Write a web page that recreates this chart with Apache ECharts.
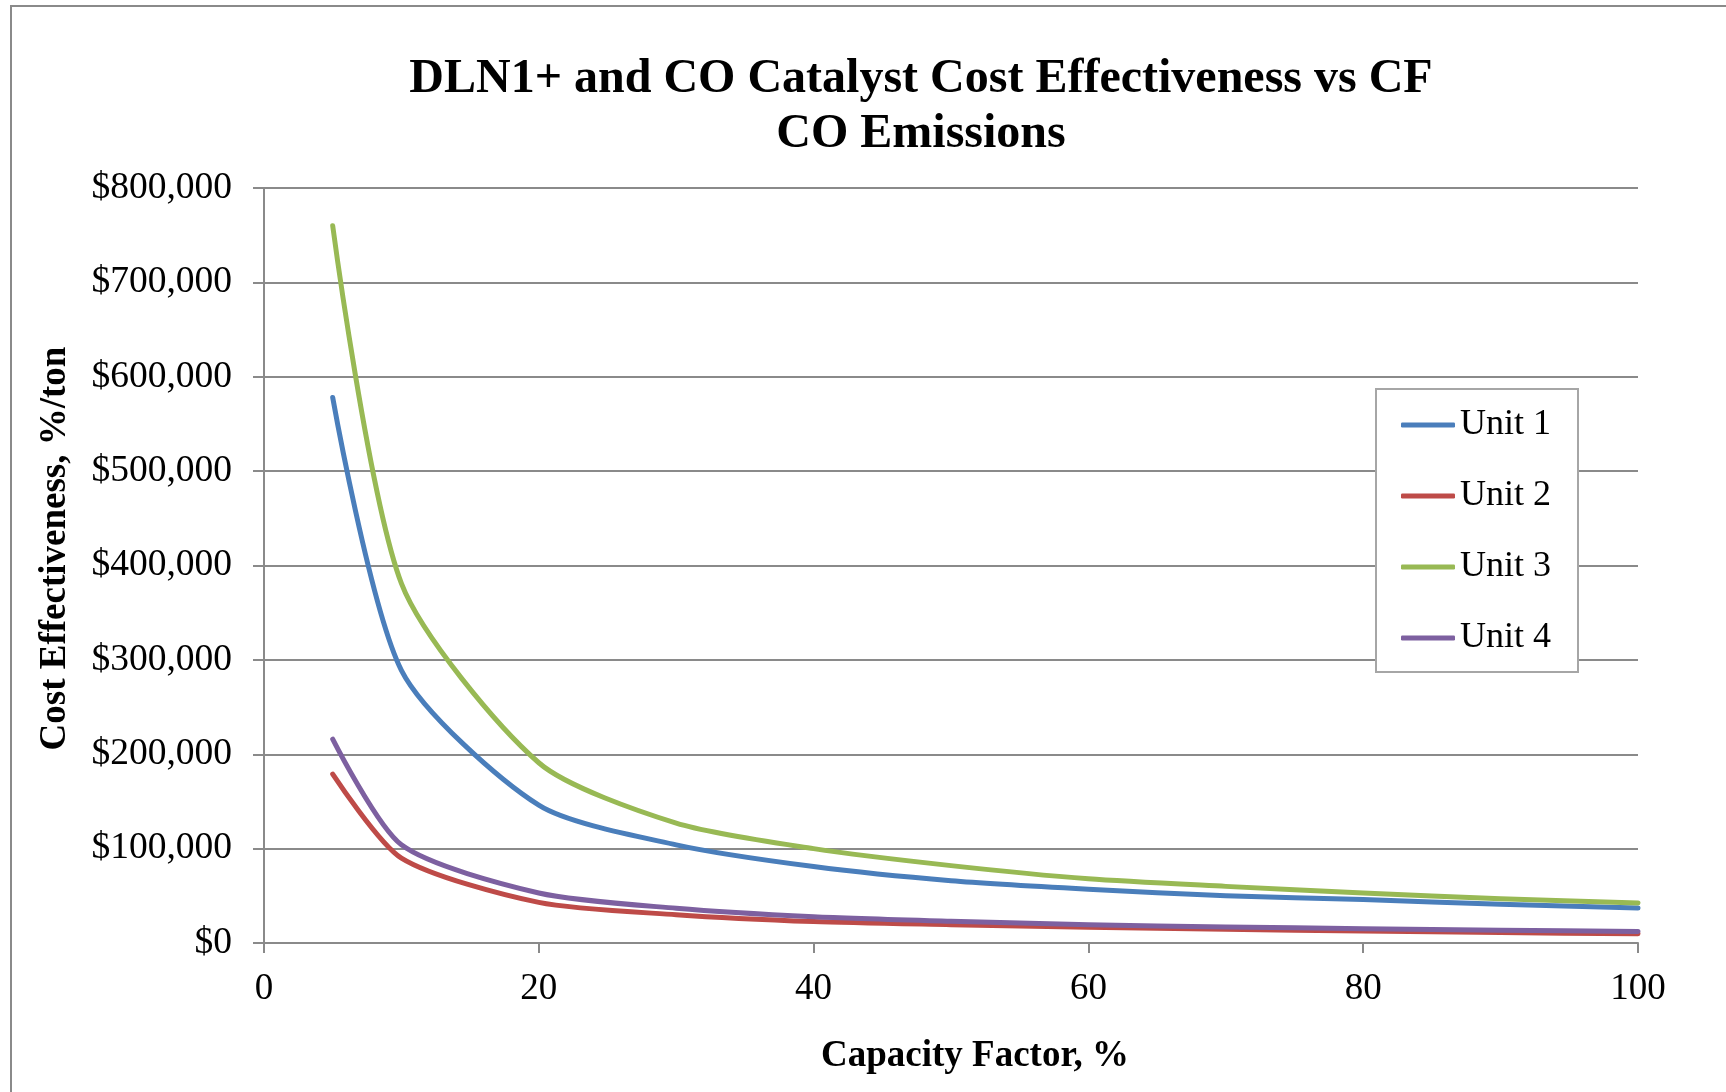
<!DOCTYPE html>
<html>
<head>
<meta charset="utf-8">
<script src="https://cdn.jsdelivr.net/npm/echarts@6/dist/echarts.min.js"></script>
<style>
html,body{margin:0;padding:0;background:#fff;}
#chart{position:absolute;left:0;top:0;width:1726px;height:1092px;}
#frame{position:absolute;left:10px;top:5px;width:1716px;height:1087px;border-left:2px solid #8a8a8a;border-top:2px solid #8a8a8a;pointer-events:none;}
</style>
</head>
<body>
<div id="chart"></div>
<div id="frame"></div>
<script>
const capacityFactor = [5, 10, 20, 30, 40, 50, 60, 70, 80, 90, 100];
const unit1 = [578000, 289000, 146000, 104000, 81000, 66000, 57000, 50000, 46000, 41000, 37000];
const unit2 = [179000, 90000, 43000, 30000, 22700, 19400, 16600, 14500, 12700, 11000, 9900];
const unit3 = [760000, 381000, 191000, 127000, 100000, 82000, 68000, 60000, 53000, 47000, 42500];
const unit4 = [216000, 104000, 53000, 36800, 27800, 23000, 19400, 17000, 15200, 13500, 12300];
const seriesNames = ['Unit 1', 'Unit 2', 'Unit 3', 'Unit 4'];
const seriesValues = [unit1, unit2, unit3, unit4];
const colors = ['#4A7EBB', '#BE4B48', '#98B954', '#7D60A0'];

const FONT = 'Liberation Serif';
const chart = echarts.init(document.getElementById('chart'));

const series = seriesNames.map((name, i) => ({
  name: name,
  type: 'line',
  smooth: 0.25,
  showSymbol: false,
  symbol: 'none',
  data: capacityFactor.map((x, j) => [x, seriesValues[i][j]]),
  lineStyle: { width: 5, color: colors[i], cap: 'round', join: 'round' },
  itemStyle: { color: colors[i] }
}));

chart.setOption({
  animation: false,
  backgroundColor: '#fff',
  title: {
    text: 'DLN1+ and CO Catalyst Cost Effectiveness vs CF\nCO Emissions',
    left: 921,
    top: 52,
    padding: 0,
    textAlign: 'center',
    textStyle: { fontFamily: FONT, fontSize: 48, fontWeight: 'bold', color: '#000', lineHeight: 55 }
  },
  legend: {
    orient: 'vertical',
    left: 1376,
    top: 389,
    padding: [18, 27, 16, 25],
    itemGap: 35,
    itemWidth: 54,
    itemHeight: 5,
    icon: 'roundRect',
    borderColor: '#a6a6a6',
    borderWidth: 2,
    backgroundColor: '#fff',
    textStyle: { fontFamily: FONT, fontSize: 36, color: '#000', padding: [0, 0, 0, 0] },
    data: seriesNames
  },
  grid: { left: 264, right: 88, top: 188, bottom: 149, containLabel: false },
  xAxis: {
    type: 'value',
    min: 0, max: 100, interval: 20,
    name: 'Capacity Factor, %',
    nameLocation: 'middle',
    nameGap: 95,
    nameTextStyle: { fontFamily: FONT, fontSize: 37, fontWeight: 'bold', color: '#000', padding: [0, 0, 0, 48] },
    axisLine: { show: true, lineStyle: { color: '#8a8a8a', width: 2 } },
    axisTick: { show: true, inside: false, length: 10, lineStyle: { color: '#8a8a8a', width: 2 } },
    axisLabel: { fontFamily: FONT, fontSize: 37, color: '#000', margin: 28 },
    splitLine: { show: false }
  },
  yAxis: {
    type: 'value',
    min: 0, max: 800000, interval: 100000,
    name: 'Cost Effectiveness, %/ton',
    nameLocation: 'middle',
    nameGap: 190,
    nameTextStyle: { fontFamily: FONT, fontSize: 37, fontWeight: 'bold', color: '#000', padding: [0, 0, 0, 34] },
    axisLine: { show: true, lineStyle: { color: '#8a8a8a', width: 2 } },
    axisTick: { show: true, inside: false, length: 11, lineStyle: { color: '#8a8a8a', width: 2 } },
    axisLabel: {
      fontFamily: FONT, fontSize: 37.5, color: '#000', margin: 32,
      formatter: v => '$' + v.toLocaleString('en-US')
    },
    splitLine: { show: true, lineStyle: { color: '#8a8a8a', width: 2 } }
  },
  series: series
});
</script>
</body>
</html>
